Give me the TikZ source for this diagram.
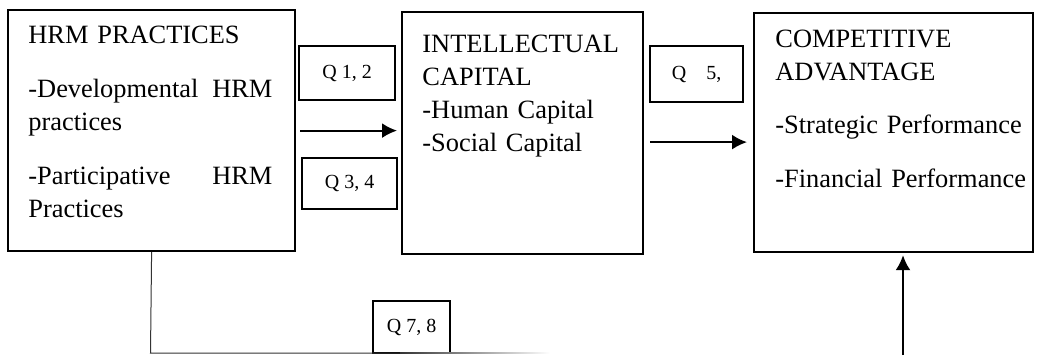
\documentclass[tikz,border=0pt]{standalone}
\usepackage{fontspec}
\setmainfont{Liberation Serif}
\usetikzlibrary{arrows.meta}

\tikzset{
  bigbox/.style={draw, line width=1.1pt, anchor=north west, inner sep=0pt},
  boxtext/.style={anchor=base west, align=left, inner sep=0pt,
    font=\fontsize{13.2}{16.5}\selectfont},
  qbox/.style={draw, line width=1.1pt, anchor=north west, inner sep=0pt,
    font=\fontsize{10}{12}\selectfont},
  arrow/.style={-{Latex[length=7.5pt,width=7.5pt]}, line width=1pt},
  thinline/.style={line width=0.5pt, black!80}
}

\begin{document}
\begin{tikzpicture}[x=0.5pt, y=-0.5pt]
            \useasboundingbox (0,0) rectangle (1048,355);

            \node[bigbox, minimum width=143.5pt, minimum height=120.5pt] (hrm) at (7,9) {};
            \node[bigbox, minimum width=120.5pt, minimum height=121pt] (ic) at (401,11) {};
            \node[bigbox, minimum width=139.5pt, minimum height=119.5pt] (ca) at (753,12) {};

            \node[boxtext, text width=122pt] (hrmtext) at ([shift={(21,34)}]hrm.north west)
              {HRM PRACTICES\\[10.5pt]
               -Developmental\hfill HRM\\
               practices\\[10.5pt]
               -Participative\hfill HRM\\
               Practices};
            \node[boxtext, text width=104pt] (ictext) at ([shift={(21,41)}]ic.north west)
              {INTELLECTUAL\\ CAPITAL\\ -Human Capital\\ -Social Capital};
            \node[boxtext, text width=126pt] (catext) at ([shift={(22,35)}]ca.north west)
              {COMPETITIVE\\ ADVANTAGE\\[10.25pt] -Strategic Performance\\[10.25pt] -Financial Performance};

            \node[qbox, minimum width=48pt, minimum height=27pt] (q12) at (298,45) {Q 1, 2};
            \node[qbox, minimum width=47.5pt, minimum height=25.5pt] (q34) at (301,157) {Q 3, 4};
            \node[qbox, minimum width=46.5pt, minimum height=28pt] (q56) at (649,45) {Q\quad 5,};
            \node[qbox, minimum width=38.5pt, minimum height=26pt] (q78) at (372,300) {Q 7, 8};

            \draw[arrow, shorten <=2pt, shorten >=2pt] (hrm.east) -- (hrm.east -| ic.west);
            \draw[arrow, shorten <=3pt, shorten >=3pt] ([yshift=-4.5pt]ic.east) -- ([yshift=-4.5pt]ic.east -| ca.west);

            % link from HRM straight to competitive advantage
            \coordinate (bend) at (150.5,353);
            \coordinate (fadestart) at (400,353);
            \coordinate (fadeend) at (550,353);
            \coordinate (foot) at (903,355);
            \draw[thinline] (hrm.south) -- (bend) -- (fadestart);
            \shade[left color=black!80, right color=white] ([yshift=0.25pt]fadestart) rectangle ([yshift=-0.25pt]fadeend);
            \draw[arrow, shorten >=1pt] (foot) -- (foot |- ca.south);
        \end{tikzpicture}
\end{document}
